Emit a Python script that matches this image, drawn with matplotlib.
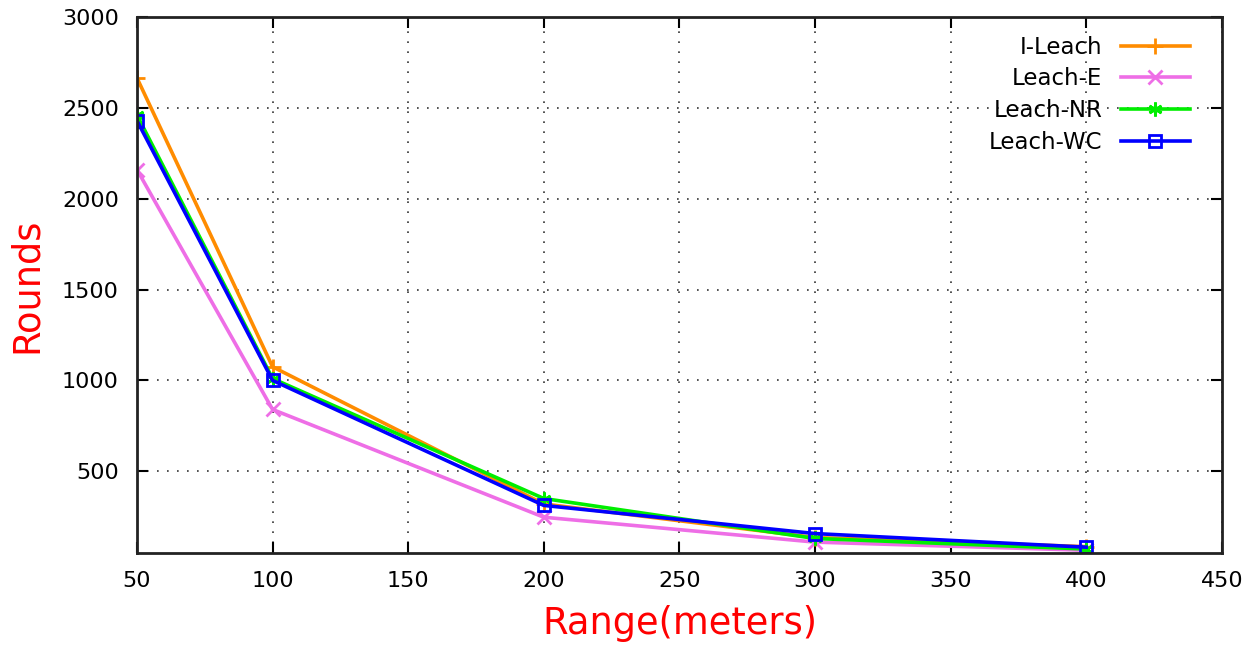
import matplotlib
matplotlib.use("Agg")
import matplotlib.pyplot as plt

x = [50, 100, 200, 300, 400]
i_leach = [2665, 1075, 320, 135, 85]
leach_e = [2160, 840, 247, 110, 65]
leach_nr = [2460, 1010, 350, 130, 72]
leach_wc = [2430, 1000, 312, 157, 82]

series = [
    ("I-Leach", i_leach, "#ff8c00", "+", 12, 2),
    ("Leach-E", leach_e, "#ee6ee6", "x", 10, 2),
    ("Leach-NR", leach_nr, "#00ee00", (6, 2, 0), 10, 2),
    ("Leach-WC", leach_wc, "#0000ff", "s", 8, 2),
]

plt.rcParams['font.family'] = ['DejaVu Sans']
fig = plt.figure(figsize=(12.6, 6.56), dpi=100)
ax = fig.add_axes([0.1087, 0.157, 0.861, 0.817])

for name, vals, col, mk, ms, mew in series:
    if mk == "s":
        ax.plot(x, vals, color=col, lw=2.6, marker=mk, ms=ms, mew=mew,
                mfc='none', mec=col, label=name)
    else:
        ax.plot(x, vals, color=col, lw=2.6, marker=mk, ms=ms, mew=mew,
                label=name)

ax.set_xlim(50, 450)
ax.set_ylim(50, 3000)
ax.set_xticks(list(range(50, 451, 50)))
ax.set_yticks(list(range(500, 3001, 500)))
ax.grid(True, linestyle=(0, (1, 5)), color='#333333', lw=1.2)
ax.tick_params(direction='in', length=8, width=1.5, top=True, right=True,
               labelsize=16, pad=13)
for s in ax.spines.values():
    s.set_linewidth(2)
    s.set_color('#222222')

ax.set_xlabel("Range(meters)", color='red', fontsize=26.5, labelpad=10)
ax.set_ylabel("Rounds", color='red', fontsize=26.5, labelpad=12)

leg = ax.legend(loc='upper right', frameon=False, markerfirst=False,
                fontsize=16.5, handlelength=3.0, labelspacing=0.38,
                borderaxespad=0.3, bbox_to_anchor=(0.985, 0.995))

fig.savefig("out.png", dpi=100)
